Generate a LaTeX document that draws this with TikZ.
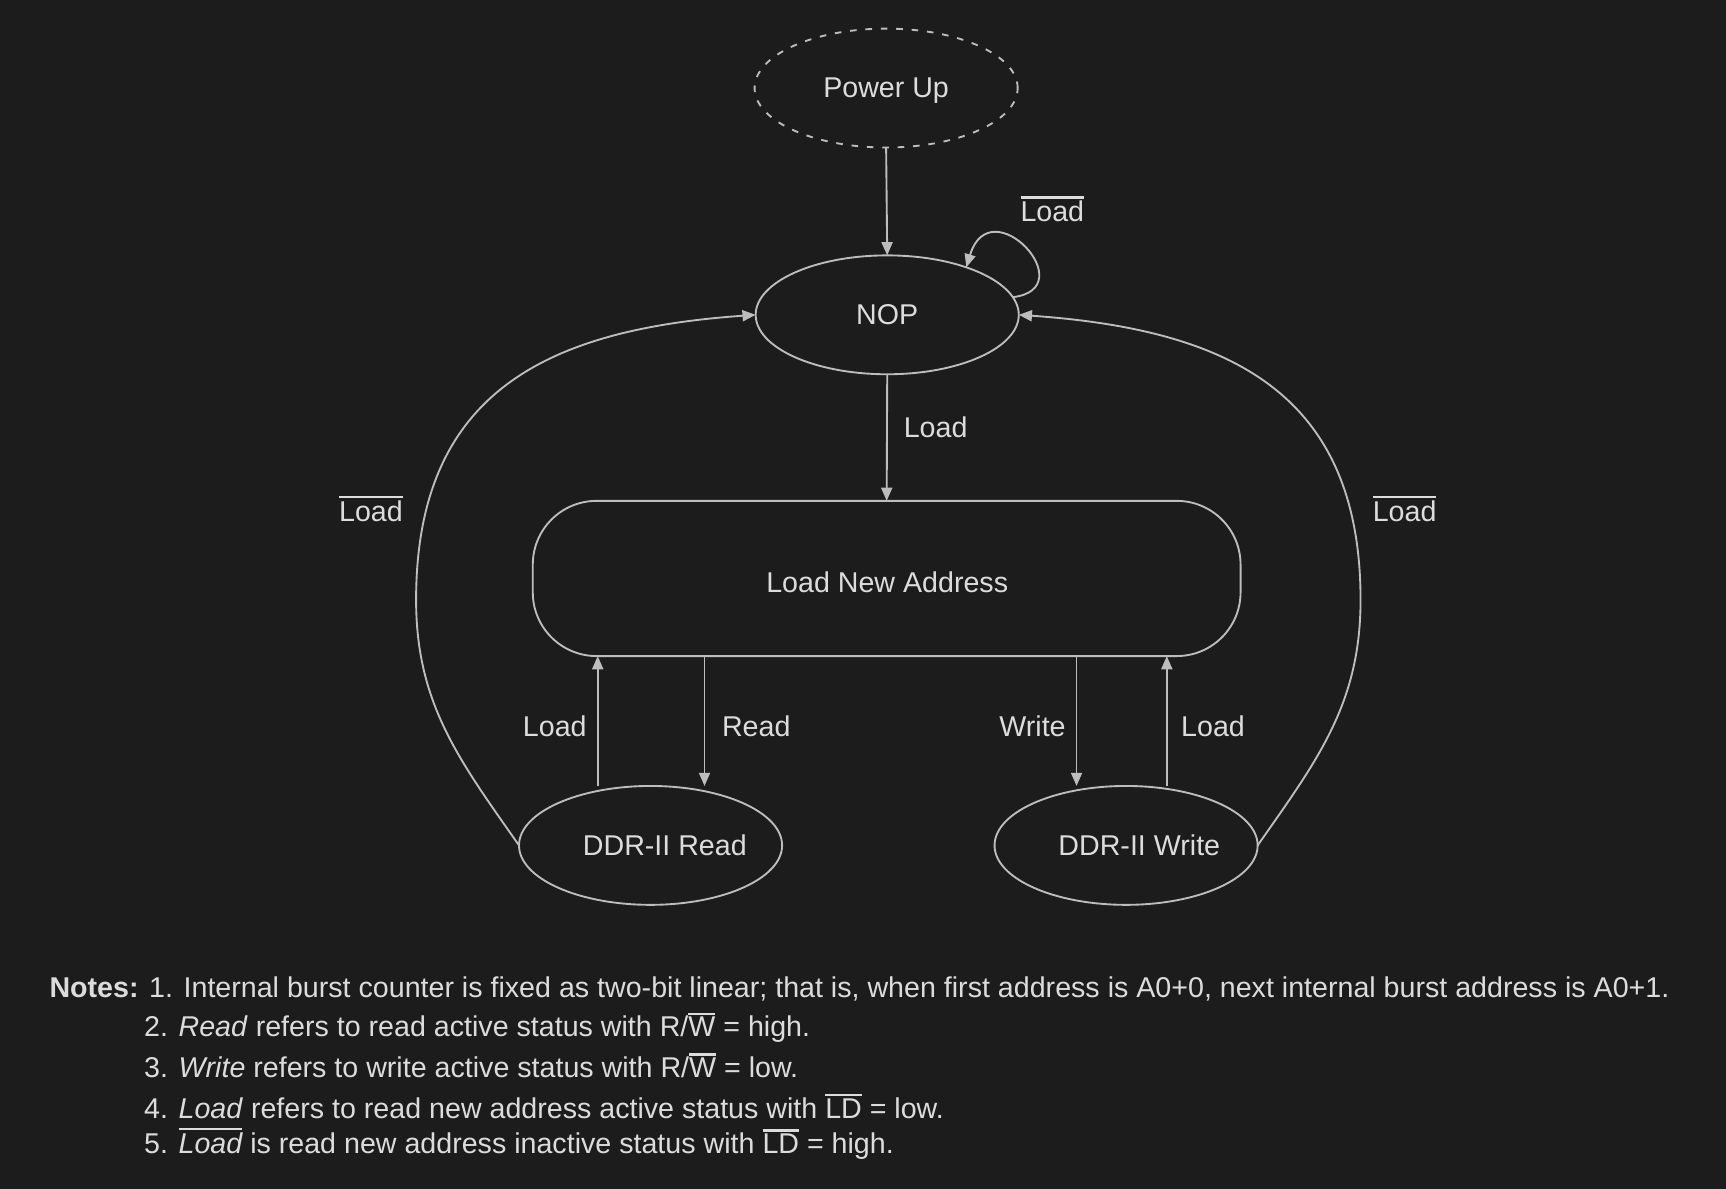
\documentclass[tikz,border=0pt]{standalone}
\usepackage{fontspec}
\setmainfont{Liberation Sans}
\usetikzlibrary{arrows.meta,shapes.geometric}
\definecolor{bgc}{HTML}{1C1C1C}
\definecolor{linec}{HTML}{BDBDBD}
\definecolor{textc}{HTML}{DCDCDC}
\newcommand{\ovl}[1]{\leavevmode\vbox{\hrule height 2pt\kern 2.2pt\hbox{#1}}}
\newcommand{\bigfont}{\fontsize{26}{31}\selectfont}
\begin{document}
\begin{tikzpicture}[x=1pt,y=-1pt,
  every node/.style={text=textc,font=\bigfont,inner sep=0pt,outer sep=0pt},
  state/.style={ellipse,draw=linec,line width=1.7pt,minimum width=239pt,minimum height=108pt},
  conn/.style={draw=linec,line width=1.7pt,-{Triangle[length=12pt,width=10pt]}},
  lbl/.style={anchor=center},
  note/.style={anchor=base west}]
\fill[bgc] (0,0) rectangle (1568,1080);
\useasboundingbox (0,0) rectangle (1568,1080);

\node[state,dashed,dash pattern=on 6pt off 8pt,text depth=0pt] (PU) at (805,80) {Power Up};
\node[state] (NOP) at (806,286) {NOP};
\node[draw=linec,line width=1.7pt,rounded corners=58pt,minimum width=643pt,minimum height=141pt] (LNA) at (805.5,525.5) {};
\node[lbl] at (806,529) {Load New Address};
\node[state,label={[xshift=13pt]center:DDR-II Read}] (DR) at (591,768) {};
\node[state,label={[xshift=12pt]center:DDR-II Write}] (DW) at (1023,768) {};

\coordinate (L) at (378,545);
\coordinate (R) at (1236,545);

\draw[conn] (PU.south) -- (NOP.north);
\draw[conn] (NOP.8) .. controls (985,262) and (900,170) .. (NOP.31);
\node[lbl] at (956,190) {\ovl{Load}};
\draw[conn] (NOP.south) -- (LNA.north);
\node[lbl] at (850,388) {Load};

\draw[conn] (DR.west) to[out=125,in=-90] (L) to[out=90,in=184,looseness=1.2] (NOP.west);
\node[lbl] at (337,462) {\ovl{Load}};
\draw[conn] (DW.east) to[out=55,in=-90] (R) to[out=90,in=-4,looseness=1.2] (NOP.east);
\node[lbl] at (1276,462) {\ovl{Load}};

\draw[conn] (DR.north -| 543,0) -- (LNA.south -| 543,0);
\node[lbl] at (504,660) {Load};
\draw[conn] (LNA.south -| 640,0) -- (DR.north -| 640,0);
\node[lbl] at (687,660) {Read};
\draw[conn] (LNA.south -| 978,0) -- (DW.north -| 978,0);
\node[lbl] at (938,660) {Write};
\draw[conn] (DW.north -| 1060,0) -- (LNA.south -| 1060,0);
\node[lbl] at (1102,660) {Load};

\node[note] (n1) at (45,906) {\textbf{Notes:} 1. Internal burst counter is fixed as two-bit linear; that is, when first address is A0+0, next internal burst address is A0+1.};
\node[note] (n2) at (131,942) {2. \textit{Read} refers to read active status with R/\ovl{W} = high.};
\node[note] (n3) at (131,979) {3. \textit{Write} refers to write active status with R/\ovl{W} = low.};
\node[note] (n4) at (131,1016) {4. \textit{Load} refers to read new address active status with \ovl{LD} = low.};
\node[note] (n5) at (131,1048) {5. \ovl{\itshape Load} is read new address inactive status with \ovl{LD} = high.};
\end{tikzpicture}
\end{document}
